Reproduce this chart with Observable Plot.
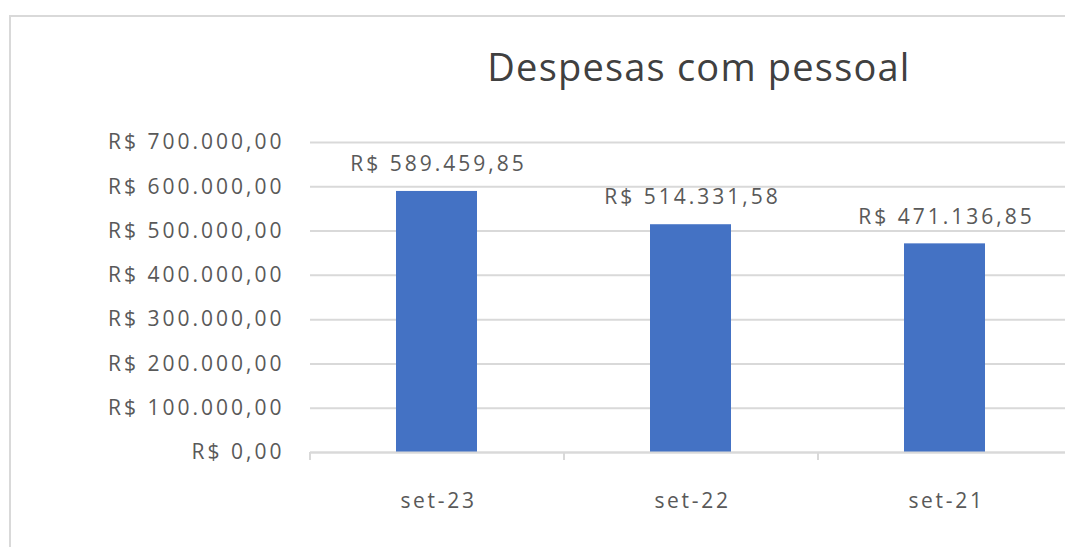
<!DOCTYPE html>
<html>
<head>
<meta charset="utf-8">
<script src="https://cdn.jsdelivr.net/npm/d3@7"></script>
<script src="https://cdn.jsdelivr.net/npm/@observablehq/plot@0.6"></script>
<style>
  html, body { margin: 0; padding: 0; background: #fff; overflow: hidden; }
  #wrap { position: relative; width: 1065px; height: 547px; overflow: hidden; }
  #frame { position: absolute; left: 9px; top: 15px; width: 1200px; height: 700px;
           border-left: 2px solid #d9d9d9; border-top: 2px solid #d9d9d9; box-sizing: border-box; }
  #title { position: absolute; left: 0; width: 1398px; top: 40px; text-align: center;
           font-family: "Open Sans", sans-serif; font-size: 38px; letter-spacing: 1.2px; color: #404040; line-height: 52px; }
  #chart { position: absolute; left: 0; top: 0; }
  #chart svg { overflow: visible; }
  .lbl text { letter-spacing: 3px; }
  .xl text { letter-spacing: 2.7px; }
</style>
</head>
<body>
<div id="wrap">
  <div id="frame"></div>
  <div id="chart"></div>
  <div id="title">Despesas com pessoal</div>
</div>
<script>
const categories = ["set-23", "set-22", "set-21"];
const values = [589459.85, 514331.58, 471136.85];
const yTicks = [0, 100000, 200000, 300000, 400000, 500000, 600000, 700000];

const data = categories.map((c, i) => ({cat: c, value: values[i]}));

const locale = d3.formatLocale({decimal: ",", thousands: ".", grouping: [3], currency: ["R$ ", ""]});
const brl = locale.format("$,.2f");

const font = "Open Sans, sans-serif";
const textColor = "#595959";
const step = (1072 - 310) / categories.length;

const chart = Plot.plot({
  width: 1065,
  height: 547,
  marginLeft: 310,
  marginRight: 0,
  marginTop: 142,
  marginBottom: 95,
  style: {fontFamily: font, fontSize: "21px", color: textColor, background: "transparent", overflow: "visible"},
  x: {domain: categories, range: [310, 1072], paddingInner: 0.68, paddingOuter: 0.34},
  y: {domain: [0, 700000]},
  marks: [
    Plot.gridY(yTicks, {stroke: "#d9d9d9", strokeOpacity: 1, strokeWidth: 2}),
    Plot.axisY(yTicks, {tickSize: 0, tickPadding: 26, tickFormat: brl, fill: textColor, fontSize: 21, label: null, className: "lbl"}),
    Plot.barY(data, {x: "cat", y: "value", fill: "#4472c4"}),
    Plot.ruleY([0], {stroke: "#d9d9d9", strokeWidth: 2}),
    Plot.ruleX(categories, {x: d => d, y1: 0, y2: -18000, dx: -step / 2, stroke: "#d9d9d9", strokeWidth: 2}),
    Plot.axisX({tickSize: 0, tickPadding: 41, fill: textColor, fontSize: 21, label: null, dx: 1.5, className: "xl"}),
    Plot.text(data, {x: "cat", y: "value", text: d => brl(d.value), dy: -27, dx: 1.5, fill: textColor, fontSize: 21, lineAnchor: "middle", textAnchor: "middle", className: "lbl"})
  ]
});
document.getElementById("chart").appendChild(chart);
</script>
</body>
</html>
